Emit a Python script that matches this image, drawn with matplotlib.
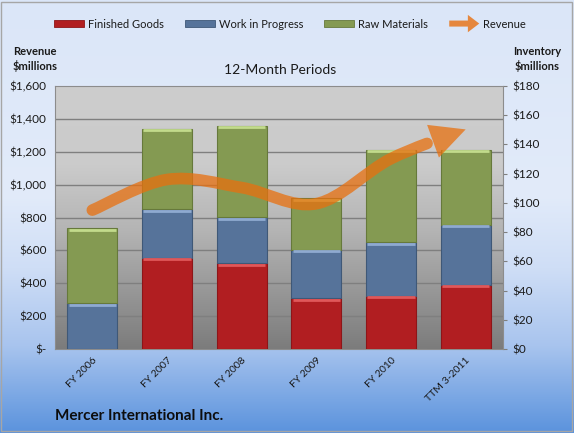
import numpy as np
import matplotlib
matplotlib.use('Agg')
import matplotlib.pyplot as plt
import matplotlib.patches as mpatches
from matplotlib.path import Path
from matplotlib.colors import LinearSegmentedColormap
from matplotlib.bezier import split_de_casteljau
from matplotlib.legend_handler import HandlerPatch
from matplotlib.transforms import blended_transform_factory

plt.rcParams['font.family'] = ['Lato', 'DejaVu Sans']

# ---------------- data ----------------
periods = ['FY 2006', 'FY 2007', 'FY 2008', 'FY 2009', 'FY 2010', 'TTM 3-2011']
finished_goods = [0.0, 62.5, 58.6, 34.7, 36.5, 43.8]
work_in_progress = [31.3, 33.1, 31.5, 33.1, 36.5, 41.3]
raw_materials = [51.3, 55.2, 62.7, 35.3, 63.2, 51.1]
revenue = [845, 1031, 982, 884, 1158, 1336]

revenue_ticks = [0, 200, 400, 600, 800, 1000, 1200, 1400, 1600]
revenue_labels = ['$-', '$200', '$400', '$600', '$800', '$1,000', '$1,200', '$1,400', '$1,600']
inventory_ticks = [0, 20, 40, 60, 80, 100, 120, 140, 160, 180]
inventory_labels = ['$0', '$20', '$40', '$60', '$80', '$100', '$120', '$140', '$160', '$180']

# ---------------- styles ----------------
RED = '#B11E21'
BLUE = '#56739A'
GREEN = '#849A52'
ORANGE = '#E8700F'
TXT = '#1A1A1A'

fig = plt.figure(figsize=(5.74, 4.33), dpi=100)

# figure background gradient
bg = fig.add_axes([0, 0, 1, 1], zorder=-10)
bg_cmap = LinearSegmentedColormap.from_list(
    'bg', [(0.0, '#DBE6F8'), (0.45, '#E2EBFA'), (0.62, '#CFDEF6'),
           (0.8, '#A8C4EE'), (1.0, '#5B93DD')])
grad = np.linspace(0, 1, 256).reshape(-1, 1)
bg.imshow(grad, cmap=bg_cmap, aspect='auto', extent=[0, 1, 0, 1], origin='upper')
bg.set_xlim(0, 1); bg.set_ylim(0, 1)
bg.axis('off')
bg.add_patch(mpatches.Rectangle((0.002, 0.004), 0.995, 0.992, fill=False,
                                edgecolor='#A6A6A6', lw=1.0, transform=bg.transAxes))

# main axes (bars, inventory scale, ticks on right)
L, B, W, H = 55 / 574, 1 - 349 / 433, 448 / 574, 263 / 433
ax = fig.add_axes([L, B, W, H])
ax2 = ax.twinx()

pa_cmap = LinearSegmentedColormap.from_list(
    'pa', [(0.0, '#CDCDCD'), (0.3, '#CBCBCB'), (0.55, '#B4B4B4'), (1.0, '#7C7C7C')])
ax.imshow(grad, cmap=pa_cmap, aspect='auto', extent=[0, 1, 0, 1], origin='upper',
          transform=ax.transAxes, zorder=0)

x = np.arange(len(periods))
bw = 0.67
wip_bottom = np.array(finished_goods)
raw_bottom = wip_bottom + np.array(work_in_progress)
series = [(finished_goods, np.zeros(len(x)), RED, '#8E1518', '#E0585A'),
          (work_in_progress, wip_bottom, BLUE, '#3F5877', '#8FAAD0'),
          (raw_materials, raw_bottom, GREEN, '#66793B', '#C2DB8C')]
for vals, bot, fc, ec, hc in series:
    ax.bar(x, vals, bw, bottom=bot, color=fc, edgecolor=ec, lw=0.8, zorder=3)
    tops = bot + np.array(vals)
    for xi, top, v in zip(x, tops, vals):
        if v > 0:
            ax.plot([xi - bw / 2 + 0.02, xi + bw / 2 - 0.02], [top - 0.9, top - 0.9],
                    color=hc, lw=2.0, solid_capstyle='butt', zorder=4)

ax.set_xlim(-0.5, len(periods) - 0.5)
ax.set_ylim(0, 180)
ax2.set_ylim(0, 1600)

# gridlines following the revenue axis, behind bars
gtrans = blended_transform_factory(ax.transAxes, ax2.transData)
for v in revenue_ticks[1:-1]:
    ax.plot([0, 1], [v, v], color='#7F7F7F', lw=1.0, transform=gtrans, zorder=1)

# axes cosmetics
ax.yaxis.tick_right()
ax.set_yticks(inventory_ticks)
ax.set_yticklabels(inventory_labels)
ax.tick_params(axis='y', which='both', length=3, color='#7F7F7F', labelsize=8.5,
               labelcolor=TXT, pad=4, right=True, left=False, labelright=True, labelleft=False)
ax.set_xticks(x)
ax.set_xticklabels(periods, rotation=45, ha='right', rotation_mode='anchor')
ax.tick_params(axis='x', length=0, labelsize=7.5, labelcolor=TXT, pad=5)
for lbl in ax.get_xticklabels():
    lbl.set_x(lbl.get_position()[0])

ax2.yaxis.tick_left()
ax2.set_yticks(revenue_ticks)
ax2.set_yticklabels(revenue_labels)
ax2.tick_params(axis='y', length=0, labelsize=8.5, labelcolor=TXT, pad=6,
                left=False, right=False, labelleft=True, labelright=False)

for s in ax.spines.values():
    s.set_color('#8C8C8C'); s.set_linewidth(0.8)
for s in ax2.spines.values():
    s.set_visible(False)

# revenue smoothed curve with arrow
P = np.column_stack([x, revenue]).astype(float)
n = len(P)
verts = [tuple(P[0])]
codes = [Path.MOVETO]
segs = []
for i in range(n - 1):
    im1 = max(i - 1, 0)
    ip2 = min(i + 2, n - 1)
    c1 = P[i] + (P[i + 1] - P[im1]) / 6.0
    c2 = P[i + 1] - (P[ip2] - P[i]) / 6.0
    segs.append(np.array([P[i], c1, c2, P[i + 1]]))
for seg in segs[:-1]:
    verts += [tuple(seg[1]), tuple(seg[2]), tuple(seg[3])]
    codes += [Path.CURVE4] * 3
t1, t2 = 0.43, 0.50
left1, _ = split_de_casteljau(segs[-1], t1)
left2, _ = split_de_casteljau(segs[-1], t2)
verts += [tuple(left1[1]), tuple(left1[2]), tuple(left1[3])]
codes += [Path.CURVE4] * 3
curve = mpatches.PathPatch(Path(verts, codes), facecolor='none', edgecolor=ORANGE,
                           lw=8.4, alpha=0.75, capstyle='round', joinstyle='round',
                           transform=ax2.transData, zorder=5)
ax2.add_patch(curve)
head = mpatches.FancyArrowPatch(
    posA=tuple(left2[3]), posB=tuple(P[-1]),
    arrowstyle=mpatches.ArrowStyle.Simple(head_length=1.0, head_width=1.0, tail_width=0.34),
    mutation_scale=25, shrinkA=0, shrinkB=0, facecolor=ORANGE, edgecolor='none',
    alpha=0.75, transform=ax2.transData, zorder=5)
ax2.add_patch(head)

# legend
def make_arrow(legend, orig_handle, xdescent, ydescent, width, height, fontsize):
    return mpatches.FancyArrow(-xdescent, -ydescent + height / 2, width, 0,
                               width=height * 0.9, head_width=height * 2.6,
                               head_length=height * 1.7, length_includes_head=True)

handles = [mpatches.Patch(facecolor=RED, edgecolor='#8E1518', lw=0.6),
           mpatches.Patch(facecolor=BLUE, edgecolor='#3F5877', lw=0.6),
           mpatches.Patch(facecolor=GREEN, edgecolor='#66793B', lw=0.6),
           mpatches.Patch(facecolor=ORANGE, edgecolor='none', alpha=0.8)]
labels = ['Finished Goods', 'Work in Progress', 'Raw Materials', 'Revenue']
fig.legend(handles, labels, loc='center', bbox_to_anchor=(290 / 574, 1 - 24 / 433),
           ncol=4, frameon=False, fontsize=8, handlelength=2.7, handleheight=0.55,
           handletextpad=0.35, columnspacing=1.9, labelcolor=TXT,
           handler_map={handles[3]: HandlerPatch(patch_func=make_arrow)})

# texts
fig.text(35 / 574, 1 - 59 / 433, 'Revenue\n$millions', ha='center', va='center',
         fontsize=8, fontweight='bold', color=TXT, linespacing=1.3)
fig.text(537 / 574, 1 - 59 / 433, 'Inventory\n$millions', ha='center', va='center',
         fontsize=8, fontweight='bold', color=TXT, linespacing=1.3)
fig.text(280 / 574, 1 - 70 / 433, '12-Month Periods', ha='center', va='center',
         fontsize=10, color=TXT)
fig.text(55 / 574, 1 - 416 / 433, 'Mercer International Inc.', ha='left', va='center',
         fontsize=11, fontweight='bold', color='#0D0D0D')

fig.savefig('out.png', dpi=100)
